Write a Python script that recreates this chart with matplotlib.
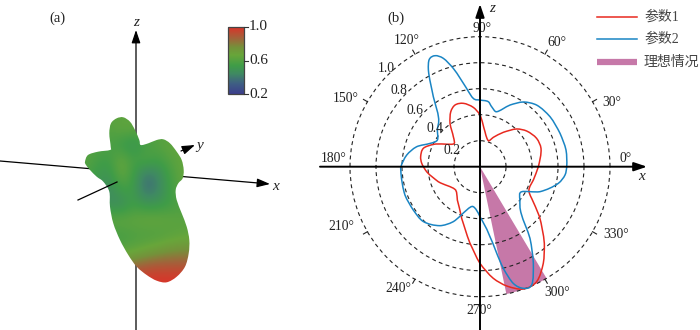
import numpy as np
import matplotlib.pyplot as plt
from matplotlib.colors import LinearSegmentedColormap
from matplotlib.patches import PathPatch, Rectangle
from matplotlib.path import Path

plt.rcParams['font.family'] = ['Liberation Serif', 'Noto Sans CJK SC']
plt.rcParams['font.size'] = 9.8
plt.rcParams['text.color'] = '#222222'

# panel (b), polar curves
theta1 = [0, 16.7, 26.6, 37.4, 45.8, 55.8, 65.6, 72, 81.9, 90, 96.4, 104.7, 112, 118, 124.7, 131.6,
          139.6, 154.4, 162, 170.4, 176.7, 185.4, 199.8, 222, 235.8, 250.5, 262.6, 270, 276.8,
          282.6, 289.5, 296.2, 303.2, 310, 320, 328.5, 334.5, 346, 360]
r1 = [.449, .49, .487, .452, .405, .32, .248, .21, .272, .397, .459, .504, .512, .479, .405, .309,
      .269, .398, .458, .463, .449, .412, .341, .26, .31, .422, .595, .744, .865,
      .94, .998, .986, .889, .77, .597, .466, .417, .423, .449]
theta2 = [0, 11, 22.6, 35.5, 47.4, 56.2, 64, 73.1, 79, 82.7, 90, 95.6, 99.7, 105.2, 108.7, 112, 115.3,
          118.1, 123.7, 129.8, 139.3, 148, 155, 162.5, 171, 180, 184.8, 200.7, 213, 224, 235.9,
          244.1, 252.9, 260.5, 270, 278.1, 282.9, 285.9, 289.6, 293.6, 298.9, 304.9, 310.8,
          320.2, 329, 337.4, 348, 354.4, 360]
r2 = [.667, .674, .667, .662, .644, .599, .528, .442, .47, .504, .513, .528, .611, .784, .88, .921, .913,
      .843, .647, .5, .433, .387, .424, .511, .571, .608, .61, .617, .612, .607, .548,
      .47, .349, .312, .385, .544, .802, .933, .993, .993, .849, .672, .49,
      .4, .374, .5, .616, .657, .667]
ideal_start = 281.7
ideal_end = 300.8
ideal_r = 1.0
r_grid = [.2, .4, .6, .8, 1.0]
angle_ticks = [30, 60, 120, 150, 210, 240, 300, 330]
legend_names = ['参数1', '参数2', '理想情况']

# panel (a), outline of the body and the values on it (pixels of the picture)
body_x = [85, 88, 98, 110, 110.7, 109.3, 111, 116.7, 123.3, 130, 135, 139.3, 140.7, 148.3, 156.7, 163.3,
          170, 176.7, 181.7, 183.7, 182.7, 178.3, 175.7, 176.7, 181.7, 186.7, 189.3, 188.7, 185, 176.7,
          166.7, 156.7, 146.7, 136.7, 128.3, 120, 113.3, 110, 109.3, 103.3, 96.7, 90, 86]
body_y = [161.7, 155, 151.7, 150, 146.7, 133.3, 123.3, 118.3, 117.3, 121.7, 130, 140, 145, 143.3, 140, 139.3,
          143.3, 151.7, 160, 170, 178.3, 183.3, 190, 200, 213.3, 226.7, 240, 253.3, 266.7, 276.7,
          282.3, 280.7, 275, 266.7, 255, 240, 223.3, 206.7, 191.7, 181.7, 176.7, 170, 165]
value_x = [85, 97, 109, 121, 133, 145, 157, 169, 181, 193]
value_y = [115, 130, 145, 160, 175, 190, 205, 220, 235, 250, 265, 280]
body_values = [
    [.62, .62, .62, .62, .62, .62, .62, .62, .62, .62],
    [.60, .60, .60, .64, .64, .62, .60, .60, .60, .60],
    [.60, .60, .58, .52, .46, .55, .60, .64, .64, .64],
    [.62, .56, .54, .66, .56, .60, .55, .60, .64, .66],
    [.58, .52, .48, .66, .55, .38, .42, .55, .64, .66],
    [.55, .50, .44, .54, .54, .36, .40, .54, .62, .64],
    [.55, .50, .46, .44, .54, .50, .50, .54, .58, .58],
    [.62, .62, .64, .64, .64, .66, .66, .64, .62, .62],
    [.56, .56, .56, .56, .58, .58, .58, .60, .62, .64],
    [.58, .58, .58, .60, .62, .66, .70, .74, .76, .76],
    [.78, .78, .78, .80, .84, .88, .90, .90, .90, .90],
    [.98, .98, .98, .98, 1.0, 1.0, 1.0, 1.0, 1.0, 1.0],
]
cbar_ticks = [1.0, 0.6, 0.2]

cmap = LinearSegmentedColormap.from_list('body', [
    (0, '#3c3f8c'), (.15, '#3f5f84'), (.3, '#3f8a62'), (.42, '#3f9c48'), (.58, '#68a63a'),
    (.7, '#74923a'), (.85, '#a5603a'), (1, '#d9352a')])


def smooth_codes(n):
    return [Path.MOVETO] + [Path.CURVE4] * (3 * (n - 1))


def polar_curve(theta_deg, r):
    # cubic through the read points, r as function of theta
    t = np.deg2rad(theta_deg)
    r = np.array(r)
    n = len(t)
    slope = np.zeros(n)
    slope[1:-1] = (r[2:] - r[:-2]) / (t[2:] - t[:-2])
    slope[0] = slope[-1] = (r[1] - r[-2]) / (t[1] - t[-2] + 2 * np.pi)
    verts = [(t[0], r[0])]
    for i in range(n - 1):
        h = (t[i + 1] - t[i]) / 3
        verts += [(t[i] + h, r[i] + slope[i] * h), (t[i + 1] - h, r[i + 1] - slope[i + 1] * h), (t[i + 1], r[i + 1])]
    return Path(verts, smooth_codes(n))


def closed_curve(xs, ys):
    p = np.column_stack([xs, ys])
    n = len(p)
    verts = [p[0]]
    for i in range(n):
        a, b, c, d = p[i - 1], p[i], p[(i + 1) % n], p[(i + 2) % n]
        verts += [b + (c - a) / 6, c - (d - b) / 6, c]
    return Path(verts, smooth_codes(n + 1))


fig = plt.figure(figsize=(7, 3.3), dpi=100)

# whole figure in pixels, for the 3D panel, axes lines and text
ax = fig.add_axes([0, 0, 1, 1])
ax.axis('off')


def arrow(x0, y0, x1, y1, lw=1.0, zorder=2):
    ax.annotate('', xy=(x1, y1), xytext=(x0, y0), zorder=zorder,
                arrowprops=dict(arrowstyle='-|>,head_length=0.65,head_width=0.22', color='black', lw=lw,
                                shrinkA=0, shrinkB=0, mutation_scale=12))


arrow(136, 330, 136, 30, 0.9)
arrow(0, 161, 270, 184, 0.9)
arrow(181, 151, 195, 145, 0.9)

dx = (value_x[1] - value_x[0]) / 2
dy = (value_y[1] - value_y[0]) / 2
im = ax.imshow(body_values, cmap=cmap, vmin=0.2, vmax=1.0, interpolation='bicubic', aspect='auto', zorder=3,
               extent=(value_x[0] - dx, value_x[-1] + dx, value_y[-1] + dy, value_y[0] - dy))
clip = PathPatch(closed_curve(body_x, body_y), transform=ax.transData, fc='none', ec='none')
ax.add_patch(clip)
im.set_clip_path(clip)
ax.plot([78, 117], [200, 182], color='black', lw=0.9, zorder=4)

# colorbar
ax.imshow(np.linspace(1, 0.2, 64)[:, None], cmap=cmap, vmin=0.2, vmax=1.0, aspect='auto', zorder=3,
          extent=(228, 244, 94, 27))
ax.add_patch(Rectangle((228, 27), 16, 67, fc='none', ec='#444444', lw=0.9, zorder=4))
for v, y in zip(cbar_ticks, [27, 61, 94]):
    ax.plot([244, 248], [y, y], color='#333333', lw=0.8, zorder=4)
    ax.text(249, y, f'{v:.1f}', va='center', ha='left', fontsize=11)
ax.set_xlim(0, 700)
ax.set_ylim(330, 0)

ax.text(57, 18, '(a)', ha='center', va='center', fontsize=10.5)
ax.text(136, 23, 'z', ha='center', va='center', style='italic', fontsize=11)
ax.text(200, 146, 'y', ha='center', va='center', style='italic', fontsize=11)
ax.text(276, 187, 'x', ha='center', va='center', style='italic', fontsize=11)

# polar panel, centre (480, 166.7), radius 1.0 = 130 px
R = 1.27
px = 130 * R
pol = fig.add_axes([(480 - px) / 700, 1 - (166.7 + px) / 330, 2 * px / 700, 2 * px / 330],
                   projection='polar', zorder=2)
pol.patch.set_alpha(0)
pol.spines['polar'].set_visible(False)
pol.set_ylim(0, R)
pol.set_rgrids(r_grid, labels=[''] * len(r_grid))
pol.set_thetagrids([], labels=[])
pol.yaxis.grid(True, ls=(0, (3.5, 3)), lw=0.8, color='#222222')
pol.set_axisbelow(False)

start = np.deg2rad(ideal_start)
width = np.deg2rad(ideal_end - ideal_start)
pol.bar(start + width / 2, ideal_r, width=width, color='#c678a8', lw=0, zorder=1)
pol.add_patch(PathPatch(polar_curve(theta1, r1), fc='none', ec='#e8291f', lw=1.1, zorder=3))
pol.add_patch(PathPatch(polar_curve(theta2, r2), fc='none', ec='#1a85c4', lw=1.1, zorder=3))
for a in angle_ticks:
    pol.plot(np.deg2rad([a, a]), [1.0, 1.035], color='#222222', lw=0.8, zorder=3)
pol.set_ylim(0, R)

arrow(320, 166.7, 647, 166.7, 1.4, zorder=5)
arrow(480, 330, 480, 4, 1.4, zorder=5)
ax.set_zorder(3)
ax.patch.set_alpha(0)

ax.text(396, 18, '(b)', ha='center', va='center', fontsize=10.5)
ax.text(492, 8, 'z', ha='center', va='center', style='italic', fontsize=11)
ax.text(642, 177, 'x', ha='center', va='center', style='italic', fontsize=11)
angle_labels = {'90°': (482, 28), '120°': (407, 40), '60°': (557, 43), '150°': (346, 99), '30°': (612, 102),
                '180°': (334, 159), '0°': (626, 159), '210°': (341, 227), '330°': (616, 235),
                '240°': (398, 289), '300°': (557, 292), '270°': (479, 311)}
for s, (x, y) in angle_labels.items():
    ax.text(x, y, s, ha='center', va='center')
r_labels = {'1.0': (386, 69), '0.8': (399, 91), '0.6': (415, 111), '0.4': (435, 128), '0.2': (452, 150)}
for s, (x, y) in r_labels.items():
    ax.text(x, y, s, ha='center', va='center')

# legend by hand, the spacing is wide
ax.plot([597, 637], [17, 17], color='#e8291f', lw=1.1)
ax.plot([597, 637], [39, 39], color='#1a85c4', lw=1.1)
ax.plot([597, 637], [62, 62], color='#c678a8', lw=4.5, solid_capstyle='butt')
for s, y in zip(legend_names, [17, 39, 62]):
    ax.text(644, y, s, ha='left', va='center', fontsize=10, color='#444444')

fig.savefig('out.png', dpi=100)
